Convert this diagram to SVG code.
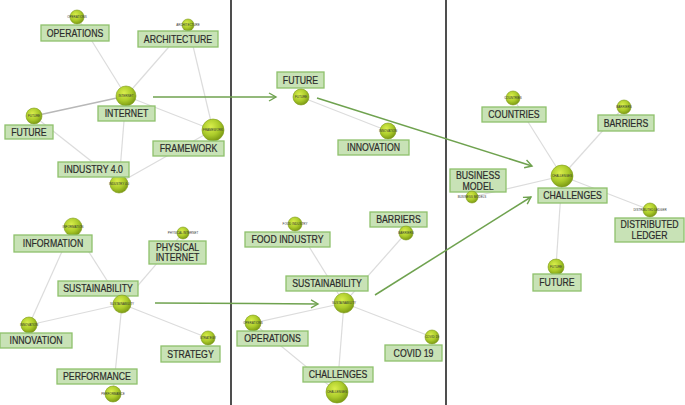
<svg xmlns="http://www.w3.org/2000/svg" width="685" height="405" viewBox="0 0 685 405">
<style>
.bx{fill:#c8e2b6;stroke:#8ec16c;stroke-width:1.3}
.lb{font-family:"Liberation Sans",Arial,sans-serif;font-size:10.4px;fill:#2b2b2b;stroke:#2b2b2b;stroke-width:0.2;text-anchor:middle;transform-box:fill-box;transform-origin:center;transform:scaleX(0.84)}
.tl{font-family:"Liberation Sans",Arial,sans-serif;font-size:3px;fill:#333;text-anchor:middle}
.ball{fill:url(#g);stroke:#7d9a18;stroke-width:0.6}
.e{stroke:#dcdcdc;stroke-width:1.2;fill:none}
.ed{stroke:#b8b8b8;stroke-width:1.5;fill:none}
.a{stroke:#6fa24f;stroke-width:1.5;fill:none;marker-end:url(#ah)}
.sep{stroke:#222;stroke-width:1.6}
</style>
<defs>
<radialGradient id="g" cx="0.4" cy="0.35" r="0.65">
<stop offset="0" stop-color="#d9ee4c"/>
<stop offset="0.6" stop-color="#abcb2a"/>
<stop offset="1" stop-color="#7e9c16"/>
</radialGradient>
<marker id="ah" markerWidth="10" markerHeight="10" refX="8" refY="5" orient="auto" markerUnits="userSpaceOnUse">
<path d="M1,1 L8,5 L1,9" fill="none" stroke="#6fa24f" stroke-width="1.4"/>
</marker>
</defs>
<rect width="685" height="405" fill="#fff"/>
<line class="sep" x1="231" y1="0" x2="231" y2="405"/>
<line class="sep" x1="446" y1="0" x2="446" y2="405"/>
<g id="connectors">
<line class="e" x1="77" y1="17" x2="126" y2="96"/>
<line class="e" x1="188" y1="25" x2="126" y2="96"/>
<line class="ed" x1="126" y1="96" x2="34" y2="116"/>
<line class="e" x1="126" y1="96" x2="213" y2="130"/>
<line class="e" x1="188" y1="25" x2="213" y2="130"/>
<line class="e" x1="126" y1="96" x2="119" y2="183"/>
<line class="e" x1="34" y1="116" x2="119" y2="183"/>
<line class="e" x1="213" y1="130" x2="119" y2="183"/>
<line class="e" x1="73" y1="227" x2="29" y2="325"/>
<line class="e" x1="73" y1="227" x2="122" y2="304"/>
<line class="e" x1="183" y1="233" x2="122" y2="304"/>
<line class="e" x1="122" y1="304" x2="29" y2="325"/>
<line class="e" x1="122" y1="304" x2="208" y2="338"/>
<line class="e" x1="122" y1="304" x2="113" y2="394"/>
<line class="e" x1="301" y1="97" x2="388" y2="131"/>
<line class="e" x1="295" y1="224" x2="344" y2="303"/>
<line class="e" x1="406" y1="233" x2="344" y2="303"/>
<line class="e" x1="344" y1="303" x2="253" y2="323"/>
<line class="e" x1="344" y1="303" x2="432" y2="337"/>
<line class="e" x1="344" y1="303" x2="337" y2="392"/>
<line class="e" x1="253" y1="323" x2="337" y2="392"/>
<line class="e" x1="513" y1="98" x2="562" y2="176"/>
<line class="e" x1="624" y1="107" x2="562" y2="176"/>
<line class="e" x1="472" y1="197" x2="562" y2="176"/>
<line class="e" x1="650" y1="210" x2="562" y2="176"/>
<line class="e" x1="556" y1="267" x2="562" y2="176"/>
<line class="a" x1="153" y1="97" x2="276" y2="97"/>
<line class="a" x1="317" y1="98" x2="532" y2="166"/>
<line class="a" x1="155" y1="303" x2="318" y2="304"/>
<line class="a" x1="375" y1="295" x2="531" y2="197"/>
</g>
<g id="n-operations1"><circle class="ball" cx="77" cy="17" r="7"/><text class="tl" x="77" y="18">OPERATIONS</text><rect class="bx" x="41" y="25" width="68" height="16"/><text class="lb" x="75" y="37">OPERATIONS</text></g>
<g id="n-architecture"><circle class="ball" cx="188" cy="25" r="6"/><text class="tl" x="188" y="26">ARCHITECTURE</text><rect class="bx" x="138" y="31" width="80" height="16"/><text class="lb" x="178" y="43">ARCHITECTURE</text></g>
<g id="n-internet"><circle class="ball" cx="126" cy="96" r="10"/><text class="tl" x="126" y="97">INTERNET</text><rect class="bx" x="98" y="106" width="57" height="15"/><text class="lb" x="126.5" y="117.5">INTERNET</text></g>
<g id="n-future1"><circle class="ball" cx="34" cy="116" r="8"/><text class="tl" x="34" y="117">FUTURE</text><rect class="bx" x="5" y="125" width="48" height="14"/><text class="lb" x="29" y="136">FUTURE</text></g>
<g id="n-framework"><circle class="ball" cx="213" cy="130" r="11"/><text class="tl" x="213" y="131">FRAMEWORK</text><rect class="bx" x="153" y="141" width="71" height="15"/><text class="lb" x="188.5" y="152.5">FRAMEWORK</text></g>
<g id="n-industry"><circle class="ball" cx="119" cy="184" r="9"/><text class="tl" x="119" y="185">INDUSTRY 4.0</text><rect class="bx" x="58" y="162" width="71" height="15"/><text class="lb" x="93.5" y="173.5">INDUSTRY 4.0</text></g>
<g id="n-information"><circle class="ball" cx="73" cy="227" r="9"/><text class="tl" x="73" y="228">INFORMATION</text><rect class="bx" x="14" y="235" width="78" height="17"/><text class="lb" x="53" y="247.5">INFORMATION</text></g>
<g id="n-physical"><circle class="ball" cx="183" cy="233" r="6"/><text class="tl" x="183" y="234">PHYSICAL INTERNET</text><rect class="bx" x="149" y="241" width="57" height="23"/><text class="lb" x="177.5" y="251">PHYSICAL</text><text class="lb" x="177.5" y="261.5">INTERNET</text></g>
<g id="n-sustainability1"><rect class="bx" x="58" y="281" width="80" height="15"/><text class="lb" x="98" y="292.5">SUSTAINABILITY</text><circle class="ball" cx="122" cy="304" r="9"/><text class="tl" x="122" y="305">SUSTAINABILITY</text></g>
<g id="n-innovation1"><circle class="ball" cx="29" cy="325" r="8"/><text class="tl" x="29" y="326">INNOVATION</text><rect class="bx" x="0" y="333" width="72" height="15"/><text class="lb" x="36" y="344.5">INNOVATION</text></g>
<g id="n-strategy"><circle class="ball" cx="208" cy="338" r="7"/><text class="tl" x="208" y="339">STRATEGY</text><rect class="bx" x="161" y="346" width="59" height="16"/><text class="lb" x="190.5" y="358">STRATEGY</text></g>
<g id="n-performance"><rect class="bx" x="57" y="369" width="80" height="15"/><text class="lb" x="97" y="380.5">PERFORMANCE</text><circle class="ball" cx="113" cy="394" r="8"/><text class="tl" x="113" y="395">PERFORMANCE</text></g>
<g id="n-future2"><rect class="bx" x="277" y="72" width="47" height="16"/><text class="lb" x="300.5" y="84">FUTURE</text><circle class="ball" cx="301" cy="97" r="8"/><text class="tl" x="301" y="98">FUTURE</text></g>
<g id="n-innovation2"><circle class="ball" cx="388" cy="131" r="8"/><text class="tl" x="388" y="132">INNOVATION</text><rect class="bx" x="338" y="140" width="71" height="15"/><text class="lb" x="373.5" y="151.5">INNOVATION</text></g>
<g id="n-food"><circle class="ball" cx="295" cy="224" r="7"/><text class="tl" x="295" y="225">FOOD INDUSTRY</text><rect class="bx" x="245" y="232" width="85" height="15"/><text class="lb" x="287.5" y="243.5">FOOD INDUSTRY</text></g>
<g id="n-barriers1"><rect class="bx" x="370" y="212" width="57" height="15"/><text class="lb" x="398.5" y="223.5">BARRIERS</text><circle class="ball" cx="406" cy="233" r="7"/><text class="tl" x="406" y="234">BARRIERS</text></g>
<g id="n-sustainability2"><rect class="bx" x="286" y="276" width="82" height="15"/><text class="lb" x="327" y="287.5">SUSTAINABILITY</text><circle class="ball" cx="344" cy="303" r="10"/><text class="tl" x="344" y="304">SUSTAINABILITY</text></g>
<g id="n-operations2"><circle class="ball" cx="253" cy="323" r="8"/><text class="tl" x="253" y="324">OPERATIONS</text><rect class="bx" x="237" y="331" width="71" height="15"/><text class="lb" x="272.5" y="342.5">OPERATIONS</text></g>
<g id="n-covid"><circle class="ball" cx="432" cy="337" r="7"/><text class="tl" x="432" y="338">COVID 19</text><rect class="bx" x="385" y="345" width="57" height="16"/><text class="lb" x="413.5" y="357">COVID 19</text></g>
<g id="n-challenges2"><rect class="bx" x="303" y="367" width="70" height="15"/><text class="lb" x="338" y="378.5">CHALLENGES</text><circle class="ball" cx="337" cy="392" r="11"/><text class="tl" x="337" y="393">CHALLENGES</text></g>
<g id="n-countries"><circle class="ball" cx="513" cy="98" r="7"/><text class="tl" x="513" y="99">COUNTRIES</text><rect class="bx" x="482" y="107" width="64" height="15"/><text class="lb" x="514" y="118.5">COUNTRIES</text></g>
<g id="n-barriers2"><circle class="ball" cx="624" cy="107" r="7"/><text class="tl" x="624" y="108">BARRIERS</text><rect class="bx" x="598" y="115" width="56" height="16"/><text class="lb" x="626" y="127">BARRIERS</text></g>
<g id="n-business"><rect class="bx" x="450" y="169" width="56" height="23"/><text class="lb" x="478" y="179">BUSINESS</text><text class="lb" x="478" y="190">MODEL</text><circle class="ball" cx="472" cy="197" r="6"/><text class="tl" x="472" y="198">BUSINESS MODELS</text></g>
<g id="n-challenges1"><circle class="ball" cx="562" cy="176" r="11"/><text class="tl" x="562" y="177">CHALLENGES</text><rect class="bx" x="538" y="188" width="69" height="15"/><text class="lb" x="572.5" y="199.5">CHALLENGES</text></g>
<g id="n-ledger"><circle class="ball" cx="650" cy="210" r="7"/><text class="tl" x="650" y="211">DISTRIBUTED LEDGER</text><rect class="bx" x="615" y="218" width="69" height="24"/><text class="lb" x="649.5" y="228.5">DISTRIBUTED</text><text class="lb" x="649.5" y="239.5">LEDGER</text></g>
<g id="n-future3"><circle class="ball" cx="556" cy="267" r="8"/><text class="tl" x="556" y="268">FUTURE</text><rect class="bx" x="533" y="274" width="48" height="17"/><text class="lb" x="557" y="286.5">FUTURE</text></g>
</svg>
